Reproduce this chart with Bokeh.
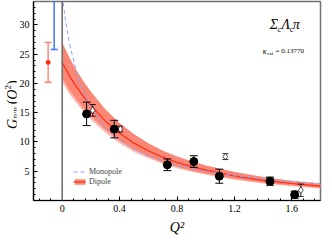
import numpy as np
from bokeh.plotting import figure
from bokeh.layouts import row
from bokeh.models import (Span, Label, FixedTicker, Legend, LegendItem,
                          ColumnDataSource, Div)
from bokeh.embed import file_html
from bokeh.resources import INLINE

# ---------------- data ----------------
# lattice points (filled black circles)
lat_q = [0.17, 0.363, 0.733, 0.917, 1.095, 1.448, 1.62]
lat_g = [14.8, 12.2, 6.1, 6.65, 4.15, 3.3, 1.0]
lat_err = [2.0, 1.5, 1.0, 1.0, 1.2, 0.7, 0.6]

# second set (open markers)
open_q = [0.213, 0.405, 1.137, 1.663]
open_g = [15.4, 12.2, 7.5, 1.75]
open_err = [1.0, 0.5, 0.5, 1.05]

# extrapolated values at Q^2 < 0 (dipole: red, monopole: blue)
dip0_q = [-0.098]
dip0_g = [23.6]
dip0_err = [3.4]
mono0_q = [-0.056]
mono0_g = [36.0]
mono0_err = [10.2]

# dipole fit curve with error band
dip_q = [0.0, 0.05, 0.1, 0.15, 0.2, 0.3, 0.4, 0.5, 0.6, 0.7, 0.8, 0.9, 1.0,
         1.2, 1.4, 1.6, 1.8]
dip_g = [23.6, 21.3, 19.4, 17.7, 16.2, 13.6, 11.5, 9.8, 8.5, 7.4, 6.5, 5.8,
         5.2, 4.2, 3.45, 2.9, 2.45]
dip_hi = [27.0, 24.4, 22.2, 20.3, 18.6, 15.6, 13.2, 11.3, 9.8, 8.5, 7.5, 6.7,
          6.0, 4.85, 4.0, 3.35, 2.85]
dip_lo = [20.9, 18.9, 17.2, 15.7, 14.4, 12.1, 10.2, 8.7, 7.5, 6.55, 5.75,
          5.1, 4.6, 3.7, 3.05, 2.55, 2.15]
dip_lo_outer = [20.2, 18.2, 16.6, 15.1, 13.8, 11.6, 9.8, 8.3, 7.2, 6.3, 5.5,
                4.9, 4.4, 3.55, 2.9, 2.45, 2.05]

# monopole fit curve
mono_q = [0.0, 0.02, 0.05, 0.1, 0.15, 0.2, 0.3, 0.4, 0.5, 0.6, 0.8, 1.0, 1.2,
          1.4, 1.6, 1.8]
mono_g = [35.0, 31.3, 26.9, 21.9, 18.4, 15.9, 12.5, 10.3, 8.75, 7.6, 6.0,
          5.0, 4.25, 3.7, 3.3, 2.9]

x_ticks = [0, 0.4, 0.8, 1.2, 1.6]
x_tick_labels = ["0", "0.4", "0.8", "1.2", "1.6"]
y_ticks = [5, 10, 15, 20, 25, 30]

SERIF = "Liberation Serif"

# ---------------- figure ----------------
p = figure(width=306, height=240, x_range=(-0.2, 1.8), y_range=(0, 34),
           output_backend="svg", toolbar_location=None,
           min_border_left=17, min_border_right=2, min_border_top=1,
           min_border_bottom=40, margin=0)
p.grid.visible = False
p.outline_line_color = "#707070"
p.outline_line_width = 1.5

# axes
p.xaxis.ticker = FixedTicker(
    ticks=x_ticks,
    minor_ticks=[round(v, 2) for v in np.arange(-0.16, 1.8, 0.08)])
p.xaxis.major_label_overrides = {t: l for t, l in zip(x_ticks, x_tick_labels)}
p.yaxis.ticker = FixedTicker(ticks=y_ticks,
                             minor_ticks=list(range(1, 34)))
for ax in (p.xaxis, p.yaxis):
    ax.major_tick_in = 4
    ax.major_tick_out = 0
    ax.minor_tick_in = 2
    ax.minor_tick_out = 0
    ax.axis_line_color = "black"
    ax.axis_line_width = 1.2
    ax.major_tick_line_color = "black"
    ax.minor_tick_line_color = "black"
    ax.major_label_text_font = SERIF
    ax.major_label_text_font_size = "10px"
    ax.major_label_text_color = "black"
    ax.major_label_standoff = 4
p.xaxis.axis_label = "Q²"
p.xaxis.axis_label_text_font = SERIF
p.xaxis.axis_label_text_font_style = "italic"
p.xaxis.axis_label_text_font_size = "14px"
p.xaxis.axis_label_text_color = "black"
p.xaxis.axis_label_standoff = 5

# dipole band
band_outer = p.varea(x=dip_q, y1=dip_lo_outer, y2=dip_hi,
                     fill_color="#ffb4a8", fill_alpha=0.9)
band = p.varea(x=dip_q, y1=dip_lo, y2=dip_hi, fill_color="#fa8472",
               fill_alpha=0.95)
dip_line = p.line(dip_q, dip_g, line_color="#ff2a10", line_width=1.2)
mono_line = p.line(mono_q, mono_g, line_color="#8aa4ff", line_width=1.0,
                   line_dash="4 3")

# vertical line at Q^2 = 0
p.add_layout(Span(location=0, dimension="height", line_color="#707070",
                  line_width=1.6))

# error bars
def errbar(xs, ys, es, color, width=1.0, cap=7):
    src = ColumnDataSource(dict(
        x=xs, y=ys,
        lo=[y - e for y, e in zip(ys, es)],
        hi=[y + e for y, e in zip(ys, es)]))
    p.segment(x0="x", y0="lo", x1="x", y1="hi", source=src,
              line_color=color, line_width=width)
    p.scatter(x="x", y="lo", source=src, marker="dash", size=cap,
              line_color=color, line_width=width)
    p.scatter(x="x", y="hi", source=src, marker="dash", size=cap,
              line_color=color, line_width=width)
    return src

errbar(mono0_q, mono0_g, mono0_err, "#4070ff", width=1.5)
errbar(dip0_q, dip0_g, dip0_err, "#ff7a68", width=1.3)
p.scatter(dip0_q, dip0_g, marker="circle", size=4, fill_color="#ff2a10",
          line_color="#ff2a10")

# open markers
errbar(open_q, open_g, open_err, "black", width=0.8, cap=6)
p.scatter(open_q, open_g, marker="diamond", size=7, fill_color="white",
          line_color="black", line_width=0.7)

# lattice points
errbar(lat_q, lat_g, lat_err, "black", width=1.0, cap=8)
p.scatter(lat_q, lat_g, marker="circle", size=8, fill_color="black",
          line_color="black")

# legend
legend = Legend(items=[LegendItem(label="Monopole", renderers=[mono_line]),
                       LegendItem(label="Dipole",
                                  renderers=[band, dip_line])],
                location=(40, 14))
legend.label_text_font = SERIF
legend.label_text_font_size = "8px"
legend.label_height = 8
legend.glyph_height = 7
legend.glyph_width = 13
legend.spacing = 1
legend.padding = 0
legend.margin = 0
legend.label_standoff = 3
legend.border_line_alpha = 0
legend.background_fill_alpha = 0
p.add_layout(legend, "center")

def lab(x, y, text, size, style="italic", **kw):
    p.add_layout(Label(x=x, y=y, text=text, text_font=SERIF,
                       text_font_size=size, text_font_style=style,
                       text_color="black", text_baseline="alphabetic", **kw))

# title text  Σc Λc π
lab(1.446, 30.1, "Σ", "14px")
lab(1.500, 29.3, "c", "8px", style="normal")
lab(1.528, 30.1, "Λ", "14px")
lab(1.585, 29.3, "c", "8px", style="normal")
lab(1.606, 30.1, "π", "14px")

lab(1.398, 25.5, "κ", "8px")
lab(1.428, 25.1, "val", "5px", style="normal")
lab(1.486, 25.5, "= 0.13770", "7px", style="normal")

# y axis label  G_{B'Bπ}(Q²)  as rotated HTML text
ylabel = Div(
    width=16, height=240, margin=0,
    text=("<div style=\"position:relative;width:16px;height:240px;\">"
          "<span style=\"position:absolute;left:0px;top:129px;"
          "transform:rotate(-90deg);transform-origin:0 0;"
          "white-space:nowrap;font-family:'Liberation Serif';"
          "font-size:14px;line-height:16px;color:black;\">"
          "<i>G</i><sub style=\"font-size:8px;\"><i>B′B</i>"
          "<sub style=\"font-size:6px;\">π</sub></sub>"
          "(<i>Q</i><sup style=\"font-size:9px;\">2</sup>)</span></div>"))

layout = row(ylabel, p, spacing=0, margin=0)
open("out.html", "w").write(file_html(layout, INLINE))
